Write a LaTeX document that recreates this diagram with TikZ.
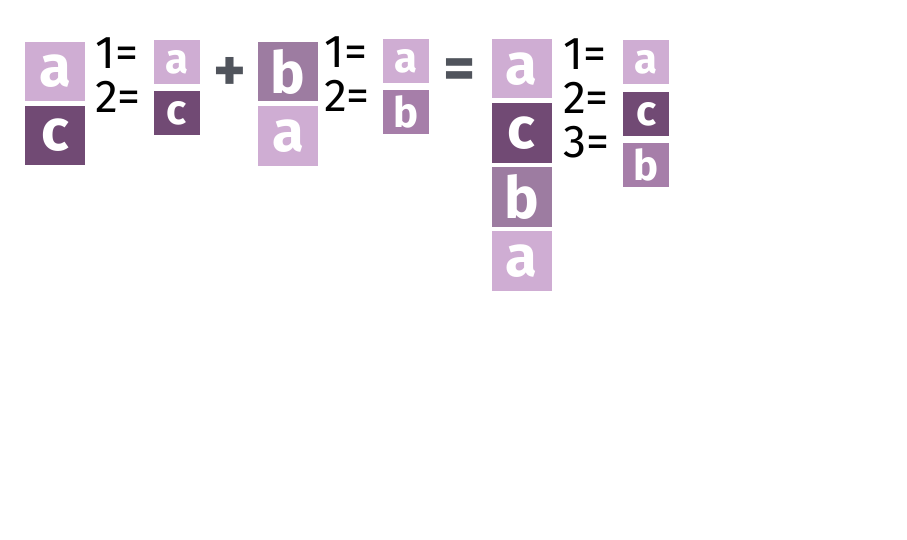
\documentclass[tikz,border=0pt]{standalone}
\usepackage{fontspec}
\setmainfont{Fira Sans}
\definecolor{lighta}{HTML}{CFADD3}
\definecolor{darkc}{HTML}{714A74}
\definecolor{bigb}{HTML}{9D7CA1}
\definecolor{smallb}{HTML}{A67EA9}
\definecolor{opgray}{HTML}{50545C}
\tikzset{
  bigbox/.style={minimum width=60pt,minimum height=59.5pt,inner sep=0pt,text=white,font=\fontsize{58}{58}\selectfont\bfseries},
  smallbox/.style={minimum width=46pt,minimum height=44pt,inner sep=0pt,text=white,font=\fontsize{42}{42}\selectfont\bfseries},
  idx/.style={anchor=base west,inner sep=0pt,text=black,font=\fontsize{46}{46}\selectfont},
  op/.style={inner sep=0pt,text=opgray,font=\fontsize{62}{62}\selectfont\bfseries}
}
\begin{document}
\begin{tikzpicture}[x=1pt,y=-1pt]
\useasboundingbox (0,0) rectangle (907,540);
% stack 1
\node[bigbox,fill=lighta] (a1) at (55,71.3) {a};
\node[bigbox,fill=darkc] (c1) at (55,135.3) {c};
\node[idx] (i11) at (95,69) {1=};
\node[idx] (i12) at (95,112.7) {2=};
\node[smallbox,fill=lighta] (s1a) at (177,62) {a};
\node[smallbox,fill=darkc] (s1c) at (177,113.3) {c};
% plus
\node[op] (plus) at (230,74) {+};
% stack 2
\node[bigbox,fill=bigb] (b2) at (288.3,71.7) {b};
\node[bigbox,fill=lighta] (a2) at (288.3,136) {a};
\node[idx] (i21) at (324,68) {1=};
\node[idx] (i22) at (324,111.7) {2=};
\node[smallbox,fill=lighta] (s2a) at (406.2,61) {a};
\node[smallbox,fill=smallb] (s2b) at (406.2,112.2) {b};
% equals
\node[op] (eq) at (459.5,74) {=};
% stack 3
\node[bigbox,fill=lighta] (a3) at (521.7,68.7) {a};
\node[bigbox,fill=darkc] (c3) at (521.7,133) {c};
\node[bigbox,fill=bigb] (b3) at (521.7,197) {b};
\node[bigbox,fill=lighta] (a4) at (521.7,261.2) {a};
\node[idx] (i31) at (563,70) {1=};
\node[idx] (i32) at (563,113.5) {2=};
\node[idx] (i33) at (563,157.7) {3=};
\node[smallbox,fill=lighta] (s3a) at (646.2,62.3) {a};
\node[smallbox,fill=darkc] (s3c) at (646.2,114.2) {c};
\node[smallbox,fill=smallb] (s3b) at (646.2,165.3) {b};
\end{tikzpicture}
\end{document}
